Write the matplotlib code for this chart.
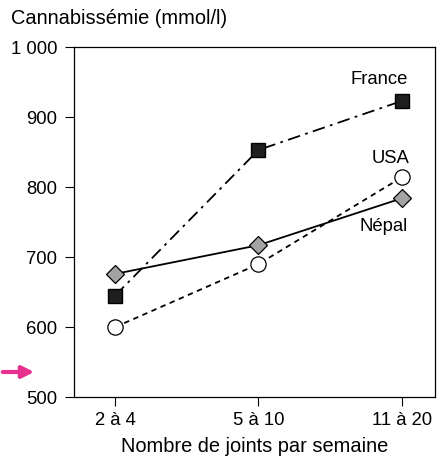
import matplotlib
matplotlib.use("Agg")
import matplotlib.pyplot as plt

plt.rcParams['font.family'] = ['Liberation Sans', 'DejaVu Sans']

categories = ["2 à 4", "5 à 10", "11 à 20"]
france = [645, 853, 923]
usa = [600, 690, 814]
nepal = [676, 717, 784]
yticks = [500, 600, 700, 800, 900, 1000]
ytick_labels = ["500", "600", "700", "800", "900", "1 000"]

FS = 13.3
FS_LAB = 14.4

fig = plt.figure(figsize=(4.41, 4.57), dpi=100)
ax = fig.add_axes([0.168, 0.131, 0.818, 0.766])

x = range(len(categories))
ax.plot(x, france, color='black', lw=1.3, dashes=(7, 3, 1.5, 3),
        marker='s', markersize=10, markerfacecolor='#1e1e1e', markeredgecolor='black', zorder=3)
ax.plot(x, usa, color='black', lw=1.3, dashes=(3, 2.5),
        marker='o', markersize=11, markerfacecolor='white', markeredgecolor='black', markeredgewidth=0.9, zorder=3)
ax.plot(x, nepal, color='black', lw=1.3, ls='-',
        marker='D', markersize=9, markerfacecolor='#a3a3a3', markeredgecolor='black', markeredgewidth=0.9, zorder=4)

ax.text(2.04, 953, "France", ha='right', va='center', fontsize=FS)
ax.text(2.05, 841, "USA", ha='right', va='center', fontsize=FS)
ax.text(2.04, 744, "Népal", ha='right', va='center', fontsize=FS)

ax.set_xlim(-0.286, 2.23)
ax.set_ylim(500, 1000)
ax.set_xticks(list(x))
ax.set_xticklabels(categories, fontsize=FS)
ax.set_yticks(yticks)
ax.set_yticklabels(ytick_labels, fontsize=FS)
ax.tick_params(direction='out', length=6.5, width=0.8)
ax.tick_params(axis='y', pad=5.5)
ax.tick_params(axis='x', pad=4)
for s in ax.spines.values():
    s.set_linewidth(0.9)

ax.set_xlabel("Nombre de joints par semaine", fontsize=FS_LAB, labelpad=6)
fig.text(0.025, 0.96, "Cannabissémie (mmol/l)", ha='left', va='center', fontsize=FS_LAB)

# pink marker arrow on the left
ax.annotate("", xy=(37, 85), xytext=(0, 85), xycoords='figure pixels', textcoords='figure pixels',
            arrowprops=dict(arrowstyle='-|>,head_length=0.7,head_width=0.35', color='#e8308f', lw=3))

fig.savefig("out.png", dpi=100)
